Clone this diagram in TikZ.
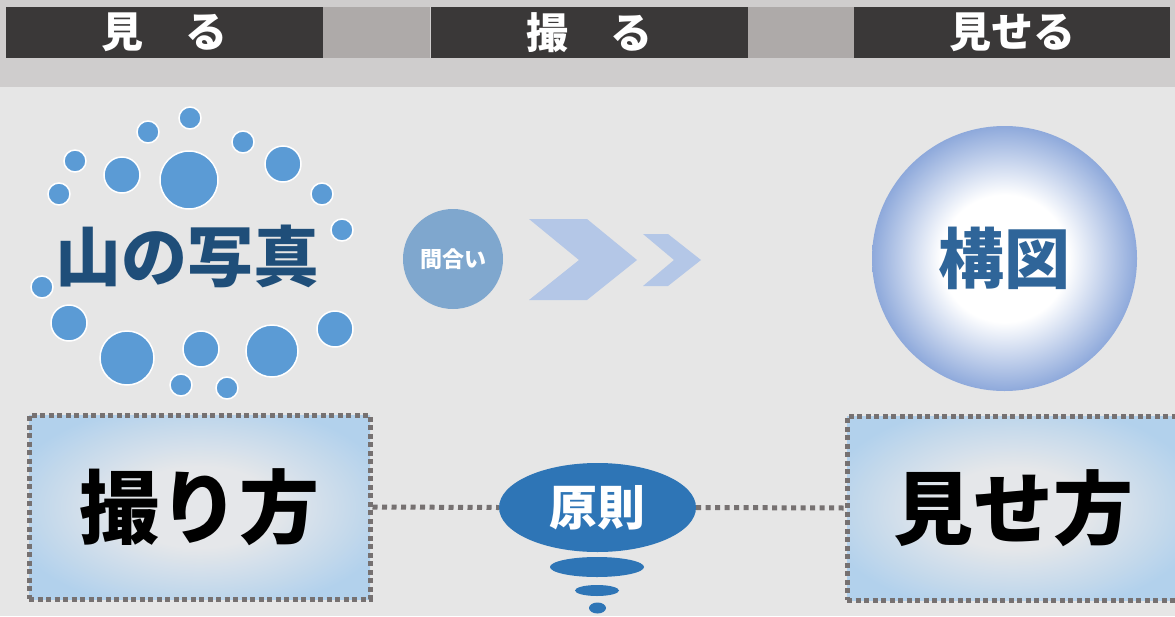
\documentclass[tikz,border=0pt]{standalone}
\usepackage{fontspec}
\newfontfamily\jp{Noto Sans CJK JP}
\usetikzlibrary{shapes.geometric}
\definecolor{bgcol}{HTML}{E6E6E6}
\definecolor{bandcol}{HTML}{CFCDCD}
\definecolor{barcol}{HTML}{3A3838}
\definecolor{midgray}{HTML}{AEAAA9}
\definecolor{dotcol}{HTML}{5B9BD5}
\definecolor{titlecol}{HTML}{1F4E79}
\definecolor{maaicol}{HTML}{7FA7CE}
\definecolor{chevcol}{HTML}{B4C7E7}
\definecolor{kozutext}{HTML}{2F6599}
\definecolor{kozuedge}{HTML}{8EA9DB}
\definecolor{gencol}{HTML}{2E75B6}
\definecolor{boxblue}{HTML}{B2D1EC}
\definecolor{boxcenter}{HTML}{E5E7EA}
\definecolor{bordercol}{HTML}{767171}
\pgfdeclareradialshading{kozushade}{\pgfpoint{0bp}{0bp}}{color(0bp)=(white);color(12bp)=(white);color(25bp)=(kozuedge);color(50bp)=(kozuedge)}
\pgfdeclareradialshading{boxshade}{\pgfpoint{0bp}{0bp}}{color(0bp)=(boxcenter);color(11bp)=(boxcenter);color(29bp)=(boxblue);color(50bp)=(boxblue)}
\tikzset{
  bar/.style={fill=barcol, minimum width=317pt, minimum height=51pt, inner sep=0pt, text=white, font=\jp\bfseries\fontsize{42}{42}\selectfont},
  dot/.style={circle, fill=dotcol, draw=white, line width=1.5pt, inner sep=0pt},
  framebox/.style={rectangle, draw=bordercol, line width=5pt, dash pattern=on 5pt off 3.5pt, shade, shading=boxshade, minimum height=184pt, inner sep=0pt, font=\jp\bfseries\fontsize{80}{80}\selectfont, text=black},
  conn/.style={draw=bordercol, line width=5pt, dash pattern=on 5pt off 4.5pt},
  blob/.style={ellipse, fill=gencol, inner sep=0pt},
}
\begin{document}
\begin{tikzpicture}[x=1pt,y=-1pt]
\useasboundingbox (0,0) rectangle (1175,616);
\clip (0,0) rectangle (1175,616);
\fill[bgcol] (0,0) rectangle (1175,616);
\fill[bandcol] (0,0) rectangle (1175,87);
% top bars
\fill[midgray] (323,7) rectangle (430,58);
\fill[midgray] (748,7) rectangle (854,58);
\node[bar] (miru) at (164.5,32.5) {見　る};
\node[bar] (toru) at (589,32.5) {撮　る};
\node[bar, minimum width=316pt] (miseru) at (1012,32.5) {見せる};
% dots around the title
\foreach \i/\cx/\cy/\r in {1/190/118/11, 2/148/132/11, 3/243/142/11, 4/75/161/11, 5/122/175/18, 6/189/180/29, 7/283/164/18, 8/59/194/11, 9/322/194/11, 10/342/230/11, 11/42/287/11, 12/69/323/18, 13/127/358/27, 14/201/349/18, 15/272/351/26, 16/335/329/18, 17/181/385/11, 18/227/388/11}
  \node[dot, minimum size=2*\r pt] (d\i) at (\cx,\cy) {};
\node[text=titlecol, font=\jp\bfseries\fontsize{66}{66}\selectfont, inner sep=0pt] (title) at (187.5,256) {山の写真};
% maai circle
\node[circle, fill=maaicol, minimum size=100pt, inner sep=0pt, text=white, font=\jp\bfseries\fontsize{22}{22}\selectfont] (maai) at (453,259) {間合い};
% chevrons
\fill[chevcol] (529,219) -- (587,219) -- (637,260) -- (587,300) -- (529,300) -- (579,260) -- cycle;
\fill[chevcol] (643,234) -- (668,234) -- (701,260) -- (668,286) -- (643,286) -- (674,260) -- cycle;
% kozu
\node[circle, shade, shading=kozushade, minimum size=265pt, inner sep=0pt, text=kozutext, font=\jp\bfseries\fontsize{66}{66}\selectfont] (kozu) at (1004.5,258.5) {構図};
% boxes
\node[framebox, minimum width=341pt] (torikata) at (199.5,507) {撮り方};
\node[framebox, minimum width=332pt] (misekata) at (1013,508) {見せ方};
% gensoku
\node[blob, minimum width=197pt, minimum height=89pt, text=white, font=\jp\bfseries\fontsize{48}{48}\selectfont] (gensoku) at (597.5,507.5) {原則};
\node[blob, minimum width=94pt, minimum height=20pt] (e1) at (597,567) {};
\node[blob, minimum width=44pt, minimum height=11pt] (e2) at (597,590.5) {};
\node[blob, minimum width=17pt, minimum height=11pt] (e3) at (597.5,608) {};
% connectors
\draw[conn] (torikata.east) -- (gensoku.west);
\draw[conn] (gensoku.east) -- (misekata.west);
\end{tikzpicture}
\end{document}
